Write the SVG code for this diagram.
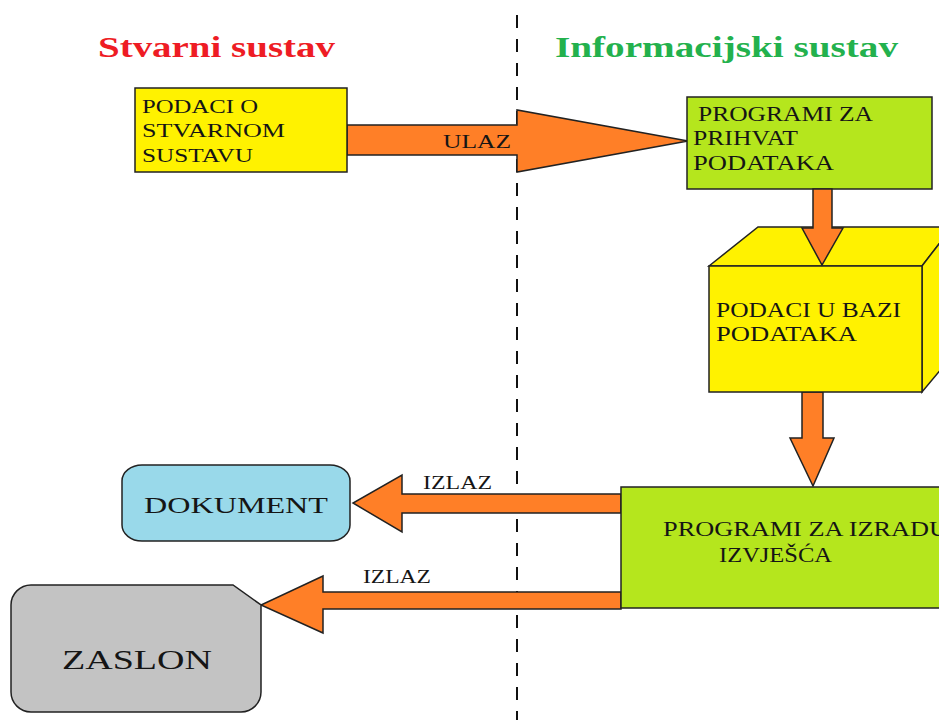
<svg xmlns="http://www.w3.org/2000/svg" width="939" height="720" viewBox="0 0 939 720">
<style>
.t{font-family:"Liberation Serif","Times New Roman",serif;fill:#151515}
.title{font-family:"Liberation Serif","Times New Roman",serif;font-weight:bold;font-size:29px}
.ol{stroke:#222;stroke-width:1.5;stroke-linejoin:miter}
.arr{fill:#ff7f27;stroke:#222;stroke-width:1.5}
.yel{fill:#fff200}
.grn{fill:#b5e61d}
</style>
<rect width="939" height="720" fill="#ffffff"/>
<g id="divider">
<line x1="517" y1="15" x2="517" y2="720" stroke="#111" stroke-width="2" stroke-dasharray="13 11"/>
</g>
<g id="titles">
<text class="title" x="98" y="57" fill="#ee1c24" textLength="237" lengthAdjust="spacingAndGlyphs">Stvarni sustav</text>
<text class="title" x="555" y="57" fill="#23b14d" textLength="343" lengthAdjust="spacingAndGlyphs">Informacijski sustav</text>
</g>
<g id="connectors">
<polygon class="arr" points="347,125 517,125 517,110 688,141 517,172 517,155 347,155"/>
<text class="t" x="443" y="148" font-size="19" fill="#333" textLength="68" lengthAdjust="spacingAndGlyphs">ULAZ</text>
<polygon class="arr" points="802,392 823,392 823,438 834,438 813,486 790,438 802,438"/>
<polygon class="arr" points="621,494 402,494 402,475 353,503 402,532 402,513 621,513"/>
<text class="t" x="423" y="489" font-size="18" textLength="69" lengthAdjust="spacingAndGlyphs">IZLAZ</text>
<polygon class="arr" points="621,592 323,592 323,576 261,605 323,633 323,609 621,609"/>
<text class="t" x="363" y="583" font-size="18" textLength="68" lengthAdjust="spacingAndGlyphs">IZLAZ</text>
</g>
<g id="podaci-stvarni">
<rect class="yel ol" x="135" y="88" width="212" height="84"/>
<text class="t" x="142" y="113" font-size="19" textLength="116" lengthAdjust="spacingAndGlyphs">PODACI O</text>
<text class="t" x="142" y="137" font-size="19" textLength="143" lengthAdjust="spacingAndGlyphs">STVARNOM</text>
<text class="t" x="142" y="162" font-size="19" textLength="111" lengthAdjust="spacingAndGlyphs">SUSTAVU</text>
</g>
<g id="programi-prihvat">
<rect class="grn ol" x="687" y="97" width="245" height="92"/>
<text class="t" x="698" y="121" font-size="21" textLength="175" lengthAdjust="spacingAndGlyphs">PROGRAMI ZA</text>
<text class="t" x="693" y="145" font-size="21" textLength="105" lengthAdjust="spacingAndGlyphs">PRIHVAT</text>
<text class="t" x="693" y="170" font-size="21" textLength="141" lengthAdjust="spacingAndGlyphs">PODATAKA</text>
</g>
<g id="baza-podataka">
<polygon class="yel ol" points="709,266 758,227 952,227 922,266"/>
<polygon class="yel ol" points="922,266 952,227 952,356 922,392"/>
<rect class="yel ol" x="709" y="266" width="213" height="126"/>
<text class="t" x="716" y="317" font-size="21" textLength="185" lengthAdjust="spacingAndGlyphs">PODACI U BAZI</text>
<text class="t" x="716" y="341" font-size="21" textLength="141" lengthAdjust="spacingAndGlyphs">PODATAKA</text>
</g>
<g id="arrow-down-1">
<polygon class="arr" points="813,189 832,189 832,228 843,228 822,265 802,228 813,228"/>
</g>
<g id="programi-izvjesca">
<rect class="grn ol" x="621" y="487" width="340" height="121"/>
<text class="t" x="663" y="536" font-size="20" textLength="285" lengthAdjust="spacingAndGlyphs">PROGRAMI ZA IZRADU</text>
<text class="t" x="719" y="562" font-size="20" textLength="113" lengthAdjust="spacingAndGlyphs">IZVJEŠĆA</text>
</g>
<g id="dokument">
<rect class="ol" x="122" y="465" width="228" height="76" rx="20" ry="16" fill="#99d9ea"/>
<text class="t" x="144" y="513" font-size="24" textLength="184" lengthAdjust="spacingAndGlyphs">DOKUMENT</text>
</g>
<g id="zaslon">
<path class="ol" fill="#c3c3c3" d="M31,585 L233,585 L261,605 L261,692 A20,20 0 0 1 241,712 L31,712 A20,20 0 0 1 11,692 L11,605 A20,20 0 0 1 31,585 Z"/>
<text class="t" x="62" y="669" font-size="28" textLength="150" lengthAdjust="spacingAndGlyphs">ZASLON</text>
</g>
</svg>
